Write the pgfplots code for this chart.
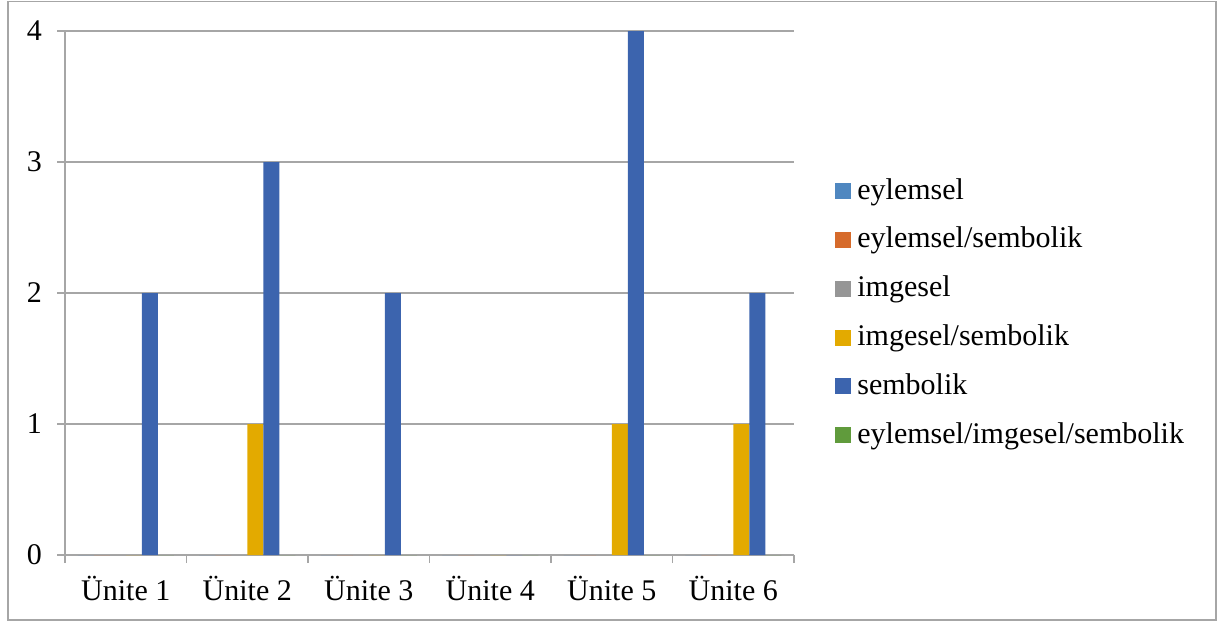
\documentclass[border=0pt]{standalone}
\usepackage{pgfplots}
\pgfplotsset{compat=1.18}
\usepackage{fontspec}
\setmainfont{Liberation Serif}

\definecolor{cEyl}{HTML}{4F87C0}
\definecolor{cEylSem}{HTML}{D66B2B}
\definecolor{cImg}{HTML}{969696}
\definecolor{cImgSem}{HTML}{E3AA00}
\definecolor{cSem}{HTML}{3C64AE}
\definecolor{cAll}{HTML}{609B3C}
\definecolor{cLine}{HTML}{A6A6A6}

\begin{document}
\begin{tikzpicture}[font=\fontsize{15}{18}\selectfont]
\useasboundingbox (0,0) rectangle (609.5pt,311.5pt);
\draw[cLine, line width=0.6pt] (4pt,1.5pt) rectangle (608pt,310.75pt);
\begin{axis}[
  at={(32.5pt,34pt)}, anchor=south west,
  scale only axis, width=364.5pt, height=262pt,
  ybar=0pt, bar width=8pt,
  xmin=-0.5, xmax=5.5, ymin=0, ymax=4,
  xtick={0,...,5},
  xticklabels={Ünite 1,Ünite 2,Ünite 3,Ünite 4,Ünite 5,Ünite 6},
  minor xtick={-0.5,0.5,...,5.5},
  ytick={0,...,4},
  axis x line*=bottom, axis y line*=left,
  axis line style={cLine, line width=0.6pt},
  tick align=outside,
  major tick length=4pt, minor tick length=4pt,
  major x tick style={draw=none},
  minor x tick style={cLine, line width=0.6pt},
  major y tick style={cLine, line width=0.6pt},
  ymajorgrids, grid style={cLine, line width=0.6pt},
  /pgf/number format/assume math mode=true,
  yticklabel style={anchor=east, xshift=-4pt},
  xticklabel style={yshift=-3pt},
  legend style={at={(1.048,0.4615)}, anchor=west, draw=none, fill=none,
    row sep=10.4pt, nodes={inner sep=0pt, inner xsep=3pt, text height=11pt, text depth=3pt}},
  legend cell align=left,
  legend image code/.code={\fill[#1,draw=none] (0pt,-4pt) rectangle (8pt,4pt);},
]
\addplot[fill=cEyl, draw=none] coordinates {(0,0) (1,0) (2,0) (3,0) (4,0) (5,0)};
\addplot[fill=cEylSem, draw=none] coordinates {(0,0) (1,0) (2,0) (3,0) (4,0) (5,0)};
\addplot[fill=cImg, draw=none] coordinates {(0,0) (1,0) (2,0) (3,0) (4,0) (5,0)};
\addplot[fill=cImgSem, draw=none] coordinates {(0,0) (1,1) (2,0) (3,0) (4,1) (5,1)};
\addplot[fill=cSem, draw=none] coordinates {(0,2) (1,3) (2,2) (3,0) (4,4) (5,2)};
\addplot[fill=cAll, draw=none] coordinates {(0,0) (1,0) (2,0) (3,0) (4,0) (5,0)};
\legend{eylemsel, eylemsel/sembolik, imgesel, imgesel/sembolik, sembolik, eylemsel/imgesel/sembolik}
\end{axis}
\end{tikzpicture}
\end{document}
